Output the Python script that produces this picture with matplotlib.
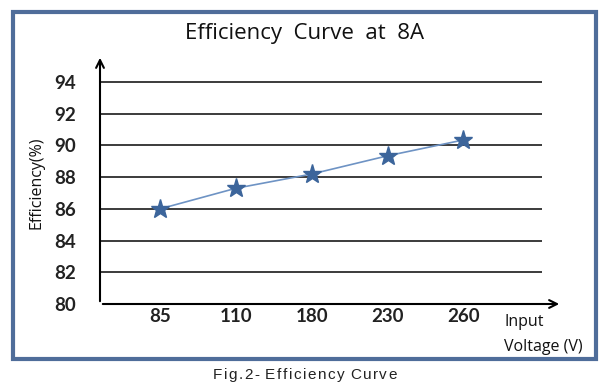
import matplotlib
matplotlib.use("Agg")
import matplotlib.pyplot as plt
from matplotlib.patches import Rectangle

categories = ["85", "110", "180", "230", "260"]
efficiency = [86.0, 87.3, 88.2, 89.35, 90.35]
yticks = [80, 82, 84, 86, 88, 90, 92, 94]

W, H = 608, 386
fig = plt.figure(figsize=(W/100, H/100), dpi=100)

def fx(px): return px / W
def fy(py): return 1 - py / H

# outer border
fig.patches.append(Rectangle((fx(13), fy(359)), fx(596) - fx(13), fy(12) - fy(359),
                             transform=fig.transFigure, fill=False,
                             edgecolor="#4F6D9A", linewidth=3))

ax = fig.add_axes([fx(100), fy(304), fx(562) - fx(100), fy(55) - fy(304)])
ax.set_facecolor("none")
ax.patch.set_alpha(0)
x = list(range(len(categories)))
ax.set_xlim(-0.79, 5.30)
ax.set_ylim(80, 80 + 249 / 15.85)
for s in ax.spines.values():
    s.set_visible(False)

ax.hlines(yticks[1:], -0.79, 5.03, color="#1a1a1a", linewidth=1.2)
# axes arrows
ax.annotate("", xy=(5.30, 80), xytext=(-0.79, 80),
            arrowprops=dict(arrowstyle="->", color="black", lw=1.5, mutation_scale=14),
            annotation_clip=False)
ax.annotate("", xy=(-0.79, 80 + 249 / 15.85), xytext=(-0.79, 80),
            arrowprops=dict(arrowstyle="->", color="black", lw=1.5, mutation_scale=14),
            annotation_clip=False)

ax.plot(x, efficiency, color="#6E93C4", linewidth=1.2, marker="*",
        markersize=14, markerfacecolor="#3C659B", markeredgecolor="#3C659B", zorder=5)

ax.set_xticks(x)
ax.set_xticklabels(categories)
ax.set_yticks(yticks)
ax.tick_params(length=0, labelsize=13.5)
ax.tick_params(axis="x", pad=3)
ax.tick_params(axis="y", pad=17)
for lab in ax.get_xticklabels() + ax.get_yticklabels():
    lab.set_fontfamily("Lato")
    lab.set_fontweight("bold")
    lab.set_color("#222222")

fig.text(fx(305), fy(33), "Efficiency  Curve  at  8A", ha="center", va="center",
         fontsize=16, family="Open Sans", color="#111111")
fig.text(fx(37), fy(183), "Efficiency(%)", ha="center", va="center", rotation=90,
         fontsize=11.5, family="Open Sans", color="#111111")
fig.text(fx(504), fy(322), "Input", ha="left", va="center",
         fontsize=11.5, family="Open Sans", color="#111111")
fig.text(fx(504), fy(347), "Voltage (V)", ha="left", va="center",
         fontsize=11.5, family="Open Sans", color="#111111")

# caption with letter spacing
caption = "Fig.2- Efficiency Curve"
fig.canvas.draw()
renderer = fig.canvas.get_renderer()
widths = []
for ch in caption:
    t = fig.text(0, 0, ch if ch != " " else "a", fontsize=11, family="Liberation Sans")
    bb = t.get_window_extent(renderer)
    w = bb.width if ch != " " else 3.0
    widths.append(w)
    t.remove()
spacing = 1.5
total = sum(widths) + spacing * (len(caption) - 1)
xpos = 305 - total / 2
for ch, w in zip(caption, widths):
    if ch != " ":
        fig.text(fx(xpos), fy(375), ch, ha="left", va="center",
                 fontsize=11, family="Liberation Sans", color="#222222")
    xpos += w + spacing

fig.savefig("out.png", dpi=100)
